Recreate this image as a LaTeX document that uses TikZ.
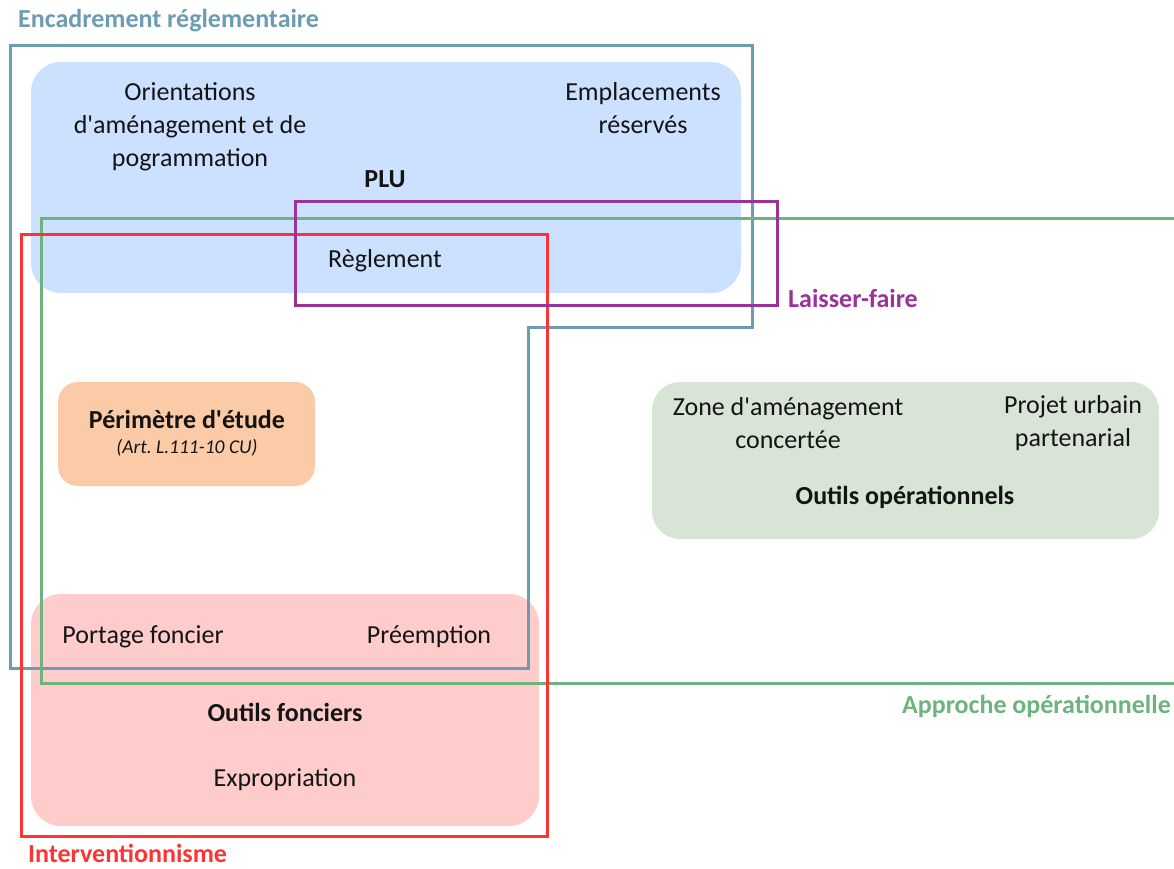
\documentclass[tikz,border=0pt]{standalone}
\usepackage{fontspec}
\setmainfont{Carlito}
\definecolor{cblue}{RGB}{108,155,178}
\definecolor{cbluefill}{RGB}{204,224,255}
\definecolor{cpurple}{RGB}{153,51,153}
\definecolor{cgreen}{RGB}{110,178,125}
\definecolor{cgreenfill}{RGB}{216,228,214}
\definecolor{cred}{RGB}{255,51,51}
\definecolor{cpinkfill}{RGB}{255,204,204}
\definecolor{corangefill}{RGB}{251,203,167}
\definecolor{ctext}{RGB}{20,20,20}
\newcommand{\apos}{\textquotesingle}
\frenchspacing
\begin{document}
\begin{tikzpicture}[x=1pt,y=-1pt,
  txt/.style={inner sep=0pt,align=center,text=ctext,font=\fontsize{26}{33}\selectfont},
  btxt/.style={txt,font=\fontsize{26}{33}\selectfont\bfseries},
  itxt/.style={txt,font=\fontsize{19.5}{24}\selectfont\itshape},
  hdr/.style={inner sep=0pt,font=\fontsize{26}{33}\selectfont\bfseries},
  frame/.style={line width=3pt}
]
\useasboundingbox (0,0) rectangle (1174,868);
% filled boxes
\fill[cbluefill,rounded corners=30pt] (31,62) rectangle (741,293);
\fill[corangefill,rounded corners=20pt] (58,382) rectangle (315,486);
\fill[cgreenfill,rounded corners=28pt] (652,382) rectangle (1159,539);
\fill[cpinkfill,rounded corners=30pt] (31,594) rectangle (539,826);
% frames
\draw[frame,cblue] (10,45) -- (752,45) -- (752,327) -- (528,327) -- (528,668) -- (10,668) -- cycle;
\draw[frame,cgreen] (1190,218) -- (41,218) -- (41,683) -- (1190,683);
\draw[frame,cred] (21,234) rectangle (547,836);
\draw[frame,cpurple] (295,201) rectangle (777,305);
% texts
\node[txt] (oap) at (190,126.5) {Orientations\\d\apos aménagement et de\\pogrammation};
\node[txt] (er) at (643,108) {Emplacements\\réservés};
\node[btxt] (plu) at (385,179) {PLU};
\node[txt] (regl) at (385,261) {Règlement};
\node[btxt] (perim) at (187,419) {Périmètre d\apos étude};
\node[itxt] (art) at (187,448) {(Art. L.111-10 CU)};
\node[txt] (zac) at (788,423) {Zone d\apos aménagement\\concertée};
\node[txt] (pup) at (1073,423) {Projet urbain\\partenarial};
\node[btxt] (oop) at (905,497) {Outils opérationnels};
\node[txt] (port) at (143,637) {Portage foncier};
\node[txt] (pree) at (429,637) {Préemption};
\node[btxt] (ofon) at (285,712) {Outils fonciers};
\node[txt] (expr) at (285,780) {Expropriation};
% headers
\node[hdr,text=cblue,anchor=west] (henc) at (18,21) {Encadrement réglementaire};
\node[hdr,text=cpurple,anchor=west] (hlf) at (788,298) {Laisser-faire};
\node[hdr,text=cgreen,anchor=east] (happ) at (1171,706) {Approche opérationnelle};
\node[hdr,text=cred,anchor=west] (hint) at (28,853) {Interventionnisme};
\end{tikzpicture}
\end{document}
